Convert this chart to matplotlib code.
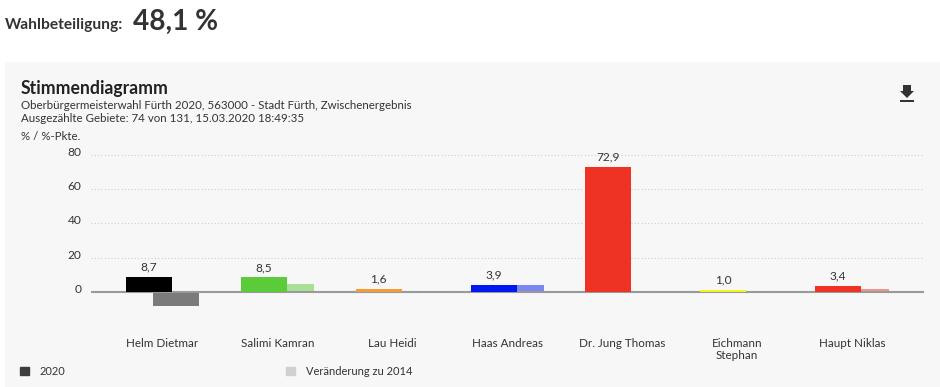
import numpy as np
import matplotlib
matplotlib.use("Agg")
import matplotlib.pyplot as plt
from matplotlib.patches import Patch, Polygon, Rectangle
from matplotlib.transforms import ScaledTranslation

# values
candidates = ['Helm Dietmar', 'Salimi Kamran', 'Lau Heidi', 'Haas Andreas',
              'Dr. Jung Thomas', 'Eichmann\nStephan', 'Haupt Niklas']
votes_2020 = [8.7, 8.5, 1.6, 3.9, 72.9, 1.0, 3.4]
change_2014 = [-8.4, 4.7, 0, 3.9, 0, 0, 1.4]
bar_colors = ['#000000', '#5ccb3a', '#f39c38', '#0018f0', '#ee3224', '#f5f51e', '#ee3224']
y_ticks = [0, 20, 40, 60, 80]

W, H = 940, 387
plt.rcParams['font.family'] = ['Lato', 'DejaVu Sans']
TEXT = '#333333'
FS = 8.3


def fx(px):
    return px / W


def fy(py):
    return 1 - py / H


fig = plt.figure(figsize=(W / 100, H / 100), dpi=100, facecolor='white')

# grey panel behind the chart
fig.add_artist(Rectangle((fx(5), 0), 1 - fx(5), fy(62), transform=fig.transFigure,
                         facecolor='#f7f7f7', edgecolor='none', zorder=-1))

# header
fig.text(fx(5), fy(29), 'Wahlbeteiligung:', fontsize=11.2, fontweight='bold', color=TEXT, va='baseline')
fig.text(fx(133), fy(30), '48,1 %', fontsize=20.2, fontweight='bold', color=TEXT, va='baseline')

# panel titles
fig.text(fx(21), fy(94), 'Stimmendiagramm', fontsize=12.7, fontweight='bold', color='#222222', va='baseline')
fig.text(fx(21), fy(109), 'Oberbürgermeisterwahl Fürth 2020, 563000 - Stadt Fürth, Zwischenergebnis',
         fontsize=8.25, color=TEXT, va='baseline')
fig.text(fx(21), fy(122), 'Ausgezählte Gebiete: 74 von 131, 15.03.2020 18:49:35',
         fontsize=8.25, color=TEXT, va='baseline')
fig.text(fx(21), fy(140), '% / %-Pkte.', fontsize=FS, color=TEXT, va='baseline')

# download icon
arrow = [(903, 85), (911, 85), (911, 91), (914, 91), (907, 98), (900, 91), (903, 91)]
fig.add_artist(Polygon([(fx(a), fy(b)) for a, b in arrow], transform=fig.transFigure,
                       facecolor='#333333', edgecolor='none'))
fig.add_artist(Rectangle((fx(900), fy(101.5)), 14 / W, 1.6 / H, transform=fig.transFigure,
                         facecolor='#333333', edgecolor='none'))

# axes area in pixels of the reference
left, right, top, bottom = 91, 924, 145, 335
zero_y = 291.7
px_per_unit = 1.71
group_step = 114.9
first_group = 162.6

ax = fig.add_axes([fx(left), fy(bottom), (right - left) / W, (bottom - top) / H])
ax.patch.set_alpha(0)
ax.set_xlim((left - first_group) / group_step, (right - first_group) / group_step)
ax.set_ylim((zero_y - bottom) / px_per_unit, (zero_y - top) / px_per_unit)

x = np.arange(len(candidates))
bar_w = 46 / group_step
offset = 0.12

ax.bar(x + offset, change_2014, bar_w, color=bar_colors, alpha=0.5, linewidth=0, zorder=2)
ax.bar(x - offset, votes_2020, bar_w, color=bar_colors, linewidth=0, zorder=3)

for xi, v in zip(x, votes_2020):
    ax.annotate(f'{v:.1f}'.replace('.', ','), (xi - offset, v), xytext=(0, 3),
                textcoords='offset points', ha='center', va='bottom', fontsize=8.6, color=TEXT)

# baseline goes over the change bars but under the 2020 bars
ax.axhline(0, color='#9a9a9a', linewidth=1.5, zorder=2.5)
ax.set_yticks(y_ticks)
ax.set_yticklabels([str(t) for t in y_ticks], fontsize=8.6, color=TEXT)
ax.grid(axis='y', color='#cfcfcf', linewidth=0.8, linestyle=(0, (1, 2)), zorder=1)
ax.set_axisbelow(True)
ax.tick_params(axis='y', length=0, pad=7)
shift = ScaledTranslation(0, 3.4 / 100, fig.dpi_scale_trans)
for lab in ax.get_yticklabels():
    lab.set_transform(lab.get_transform() + shift)

ax.set_xticks(x)
ax.set_xticklabels(candidates, fontsize=8.4, color=TEXT, linespacing=1.1)
ax.tick_params(axis='x', length=0, pad=2.2)
for s in ax.spines.values():
    s.set_visible(False)

handles = [Patch(color='#3d3d3d'), Patch(color='#d0d0d0')]
fig.legend(handles, ['2020', 'Veränderung zu 2014'], ncol=2, frameon=False,
           loc='center left', bbox_to_anchor=(fx(20), fy(371.5)), fontsize=8,
           labelcolor=TEXT, handlelength=0.8, handleheight=0.8, handletextpad=1.0,
           columnspacing=19.85, borderpad=0, borderaxespad=0)

fig.savefig('out.png', dpi=100)
